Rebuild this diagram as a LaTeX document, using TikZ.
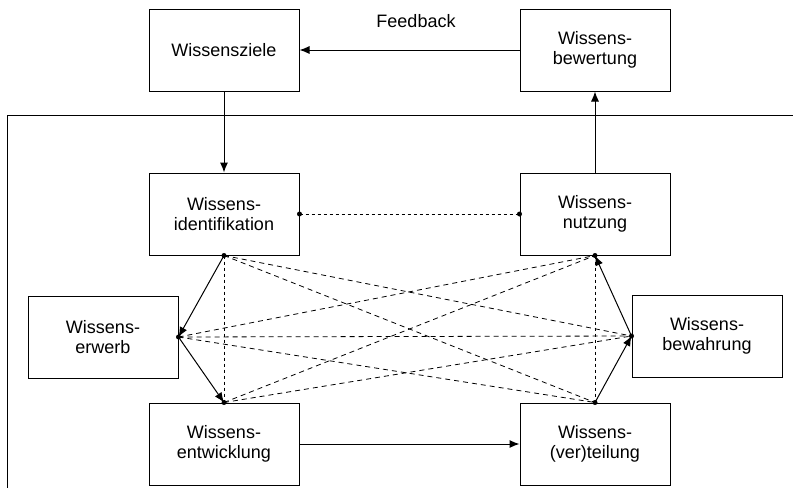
\documentclass[tikz,border=0pt]{standalone}
\usepackage{fontspec}
\setmainfont{Liberation Sans}
\usetikzlibrary{arrows.meta}
\usetikzlibrary{positioning}

\begin{document}
\begin{tikzpicture}[x=1pt, y=-1pt,
box/.style={rectangle, draw=black, fill=none, line width=1pt, minimum width=150pt, minimum height=82pt, align=center, font=\fontsize{18}{20}\selectfont},
flow/.style={line width=1pt, -{Latex[length=10pt,width=8pt]}},
link/.style={line width=0.8pt, dash pattern=on 5pt off 4pt},
vlink/.style={line width=0.8pt, dash pattern=on 3pt off 3pt},
]
\useasboundingbox (0,0) rectangle (793,488);
\node[box](zi) at (224,50){Wissensziele};
\node[box](bw)[right=220pt of zi]{Wissens-\\bewertung};
\node[box](id)[below=81pt of zi]{Wissens-\\identifikation};
\node[box](nu)[below=81pt of bw]{Wissens-\\nutzung};
\node[box](ew) at (103,337){Wissens-\\erwerb};
\node[box](ba) at (707,336){Wissens-\\bewahrung};
\node[box](ek)[below=147pt of id]{Wissens-\\entwicklung};
\node[box](vt)[below=147pt of nu]{Wissens-\\(ver)teilung};
\node[font=\fontsize{18}{20}\selectfont](fb) at (416,21){Feedback};
% frame round the core processes
\draw[line width=0.8pt] (793,115) -- (7,115) -- (7,488);
\draw[flow] (bw.west) -- (zi.east);
\draw[flow] (zi.south) -- (id.north);
\draw[flow] (nu.north) -- (bw.south);
\draw[flow] (ek.east) -- (vt.west);
\draw[flow] (id.south) -- (ew.east);
\draw[flow] (ew.east) -- (ek.north);
\draw[flow] (vt.north) -- (ba.west);
\draw[flow] (ba.west) -- (nu.south);
\draw[vlink] (id.east) -- (nu.west);
\draw[vlink] (id.south) -- (ek.north);
\draw[vlink] (nu.south) -- (vt.north);
\foreach \a/\b in {id.south/ba.west, id.south/vt.north, ew.east/nu.south, ew.east/ba.west, ew.east/vt.north, ek.north/nu.south, ek.north/ba.west}
  \draw[link] (\a) -- (\b);
\foreach \p in {id.south, id.east, nu.west, nu.south, ew.east, ba.west, ek.north, vt.north}
  \fill (\p) circle (2.5pt);
\end{tikzpicture}
\end{document}
